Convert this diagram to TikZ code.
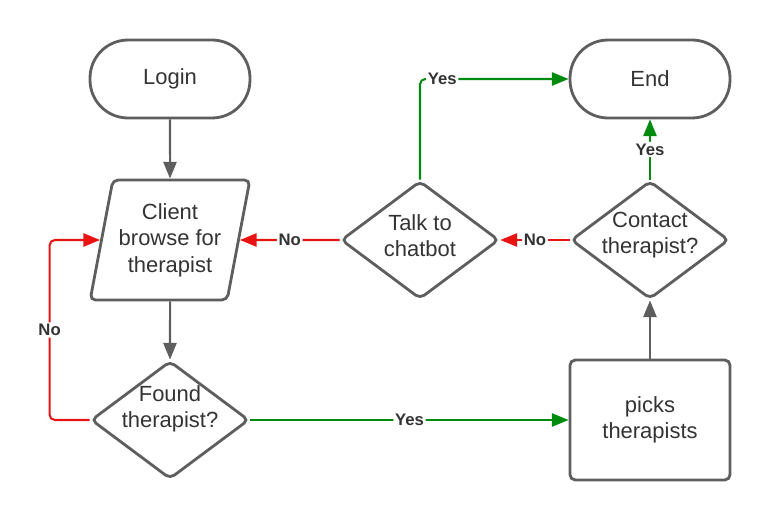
\documentclass[tikz,border=0pt]{standalone}
\usepackage{fontspec}
\setmainfont{Liberation Sans}
\usetikzlibrary{shapes.geometric,arrows.meta}

\definecolor{edge}{HTML}{5E5E5E}
\definecolor{ink}{HTML}{333333}
\definecolor{nored}{HTML}{E81313}
\definecolor{yesgreen}{HTML}{008A0E}

\tikzset{
  box/.style={draw=edge, line width=1.6pt, text=ink, align=center,
    font=\fontsize{12.5}{15}\selectfont},
  terminal/.style={box, rounded corners=0.76cm, minimum width=3.2cm, minimum height=1.56cm},
  inout/.style={box, trapezium, trapezium left angle=75, trapezium right angle=105,
    trapezium stretches=true, minimum width=3.16cm, minimum height=2.4cm, rounded corners=3pt},
  decision/.style={box, diamond, aspect=1.34, inner sep=0pt, minimum width=3.16cm,
    minimum height=2.36cm, rounded corners=3pt},
  dtext/.style={align=center, text=ink, font=\fontsize{12.5}{15}\selectfont, yshift=#1},
  process/.style={box, rounded corners=3pt, minimum width=3.2cm, minimum height=2.4cm},
  flow/.style={line width=1.15pt, rounded corners=3pt, -{Triangle[length=9.5pt,width=7.5pt]}},
  answer/.style={fill=white, inner sep=1pt, text=ink, font=\bfseries\fontsize{9.5}{11}\selectfont}
}

\begin{document}
\begin{tikzpicture}[x=0.02cm, y=-0.02cm]
  \useasboundingbox (0,0) rectangle (770,520);

  \node[terminal] (login) at (170,79) {Login};
  \node[inout] (client) at (170,240) {Client\\browse for\\therapist};
  \node[decision, label={[dtext=6.5pt]center:{Found\\therapist?}}] (found) at (170,420) {};
  \node[decision, label={[dtext=2.3pt]center:{Talk to\\chatbot}}] (chatbot) at (420,240) {};
  \node[decision, label={[dtext=2.8pt]center:{Contact\\therapist?}}] (contact) at (650,240) {};
  \node[terminal] (end) at (650,79) {End};
  \node[process] (picks) at (650,420) {picks\\therapists};

  \draw[flow, edge] (login) -- (client);
  \draw[flow, edge] (client) -- (found);
  \draw[flow, edge] (picks) -- (contact);

  \draw[flow, nored] (found.west) -- ++(-40,0)
    |- node[answer, pos=0.25] {No} (client.west);
  \draw[flow, yesgreen] (found.east) -- node[answer] {Yes} (picks.west);
  \draw[flow, yesgreen] (contact.north) -- node[answer] {Yes} (end.south);
  \draw[flow, nored] (contact.west) -- node[answer] {No} (chatbot.east);
  \draw[flow, nored] (chatbot.west) -- node[answer] {No} (client.east);
  \draw[flow, yesgreen] (chatbot.north) |- node[answer, pos=0.575] {Yes} (end.west);
\end{tikzpicture}
\end{document}
